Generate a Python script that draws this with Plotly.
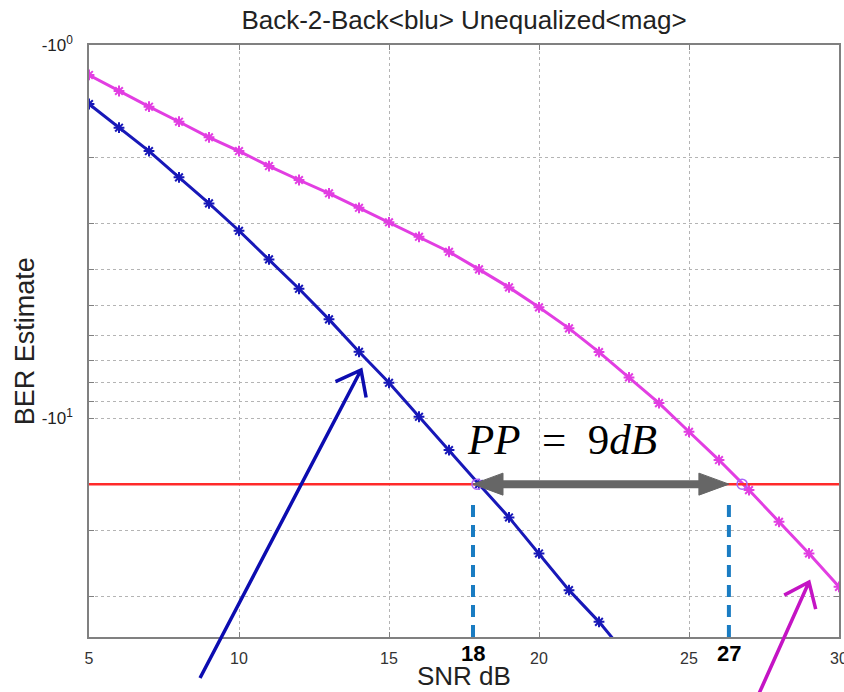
import math
import plotly.graph_objects as go

# ---------------- data ----------------
snr_b2b = [5, 6, 7, 8, 9, 10, 11, 12, 13, 14, 15, 16, 17, 18, 19, 20, 21, 22, 23]
ber_b2b = [1.439, 1.665, 1.923, 2.262, 2.656, 3.144, 3.751, 4.496, 5.430, 6.631,
           8.029, 9.90, 12.16, 15.0, 18.42, 23.0, 28.84, 35.07, 43.8]

snr_uneq = [5, 6, 7, 8, 9, 10, 11, 12, 13, 14, 15, 16, 17, 18, 19, 20, 21, 22,
            23, 24, 25, 26, 27, 28, 29, 30]
ber_uneq = [1.203, 1.328, 1.463, 1.605, 1.767, 1.923, 2.110, 2.299, 2.496, 2.729,
            2.984, 3.263, 3.579, 3.990, 4.458, 5.042, 5.740, 6.644, 7.767, 9.10,
            10.86, 12.93, 15.56, 18.92, 23.0, 28.26]

threshold = 15.0
threshold_snr = [5, 30]
cross_snr = [17.93, 26.77]
pp_snr = [17.8, 26.33]
pp_labels = ["18", "27"]

x_ticks = [5, 10, 15, 20, 25, 30]
y_grid = [1, 2, 3, 4, 5, 6, 7, 8, 9, 10, 20, 30]
y_ticktext = ["-10<sup>0</sup>", "", "", "", "", "", "", "", "", "-10<sup>1</sup>", "", ""]
y_max = 38.5

BLUE = "#1818b8"
MAG = "#e23ee2"

# ---------------- figure ----------------
fig = go.Figure()

fig.add_trace(go.Scatter(
    x=snr_b2b, y=ber_b2b, mode="lines+markers",
    line=dict(color=BLUE, width=3),
    marker=dict(symbol="asterisk-open", size=9, line=dict(color=BLUE, width=2)),
    showlegend=False))
fig.add_trace(go.Scatter(
    x=snr_uneq, y=ber_uneq, mode="lines+markers",
    line=dict(color=MAG, width=3),
    marker=dict(symbol="asterisk-open", size=9, line=dict(color=MAG, width=2)),
    showlegend=False))
fig.add_trace(go.Scatter(
    x=threshold_snr, y=[threshold, threshold], mode="lines",
    line=dict(color="#ff2a2a", width=2.5), showlegend=False))
fig.add_trace(go.Scatter(
    x=cross_snr, y=[threshold, threshold], mode="markers",
    marker=dict(symbol="circle-open", size=10,
                line=dict(color=[BLUE, MAG], width=1.5)),
    showlegend=False))

shapes = []
# dashed markers down to the axis
for xs in pp_snr:
    shapes.append(dict(type="line", xref="x", yref="paper", x0=xs, x1=xs,
                       y0=0, y1=0.232, layer="above",
                       line=dict(color="#1a7cc2", width=4, dash="12px,8px")))
# gray double arrow
shapes.append(dict(type="line", xref="x", yref="y", x0=pp_snr[0] + 0.9, x1=pp_snr[1] - 0.9,
                   y0=threshold, y1=threshold, layer="above",
                   line=dict(color="#666666", width=8)))
shapes.append(dict(type="path", xref="x", yref="y", xsizemode="pixel", ysizemode="pixel",
                   xanchor=pp_snr[0], yanchor=threshold, layer="above",
                   path="M0,0 L30,11 L30,-11 Z", fillcolor="#666666",
                   line=dict(color="#666666", width=1)))
shapes.append(dict(type="path", xref="x", yref="y", xsizemode="pixel", ysizemode="pixel",
                   xanchor=pp_snr[1], yanchor=threshold, layer="above",
                   path="M0,0 L-30,11 L-30,-11 Z", fillcolor="#666666",
                   line=dict(color="#666666", width=1)))


# hand drawn pointer arrows (pixel offsets relative to the tip)
def pointer(tipx, tipy, dx, dy, color):
    L = math.hypot(dx, dy)
    ux, uy = dx / L, dy / L
    arms = []
    for a in (math.radians(38), math.radians(-38)):
        rx = ux * math.cos(a) - uy * math.sin(a)
        ry = ux * math.sin(a) + uy * math.cos(a)
        arms.append((28 * rx, 28 * ry))
    path = (f"M{dx:.1f},{dy:.1f} L0,0 "
            f"M{arms[0][0]:.1f},{arms[0][1]:.1f} L0,0 L{arms[1][0]:.1f},{arms[1][1]:.1f}")
    return dict(type="path", xref="paper", yref="paper", xsizemode="pixel",
                ysizemode="pixel", xanchor=tipx, yanchor=tipy, layer="above",
                path=path, line=dict(color=color, width=3.5))


shapes.append(pointer(0.3627, 0.451, -161, -308, "#0c0cb0"))
shapes.append(pointer(0.96, 0.0929, -52, -116, "#c414c4"))

annotations = [
    dict(text="<i>PP</i>&nbsp;&nbsp;=&nbsp;&nbsp;9<i>dB</i>", xref="x", yref="paper",
         x=20.77, y=0.333, showarrow=False, xanchor="center", yanchor="middle",
         font=dict(family="Liberation Serif, Times New Roman, serif", size=43, color="black")),
    dict(text="SNR dB", xref="paper", yref="paper", x=0.5, y=-0.066, showarrow=False,
         yanchor="middle", font=dict(family="Liberation Sans, Arial, sans-serif", size=26, color="#222")),
    dict(text="BER Estimate", xref="paper", yref="paper", x=-0.085, y=0.5, showarrow=False,
         textangle=-90, xanchor="center", yanchor="middle",
         font=dict(family="Liberation Sans, Arial, sans-serif", size=27, color="#222")),
]
for xs, lab in zip(pp_snr, pp_labels):
    annotations.append(dict(text=f"<b>{lab}</b>", xref="x", yref="paper", x=xs, y=-0.028,
                            showarrow=False, yanchor="middle", xanchor="center",
                            font=dict(family="Liberation Sans Narrow, Arial Narrow, sans-serif",
                                      size=22, color="black")))

axis_common = dict(showline=True, linecolor="#808080", linewidth=1.5, mirror="ticks",
                   ticks="inside", ticklen=5, tickcolor="#808080",
                   showgrid=True, gridcolor="#b4b4b4", griddash="dot", gridwidth=1,
                   zeroline=False, ticklabeloverflow="allow", automargin=False)

fig.update_layout(
    width=844, height=692,
    margin=dict(l=89, r=5, t=45, b=55, autoexpand=False),
    paper_bgcolor="white", plot_bgcolor="white",
    title=dict(text="Back-2-Back&lt;blu&gt; Unequalized&lt;mag&gt;",
               xref="paper", x=0.5, xanchor="center",
               yref="container", y=1 - 20 / 692, yanchor="middle",
               font=dict(family="Liberation Sans, Arial, sans-serif", size=26, color="#222")),
    xaxis=dict(range=[5, 30], tickvals=x_ticks, ticktext=[str(v) for v in x_ticks],
               ticklabelstandoff=6,
               tickfont=dict(family="Liberation Sans, Arial, sans-serif", size=16, color="#333"),
               **axis_common),
    yaxis=dict(type="log", range=[math.log10(y_max), 0], tickvals=y_grid, ticktext=y_ticktext,
               ticklabelstandoff=11,
               tickfont=dict(family="Liberation Sans, Arial, sans-serif", size=17, color="#222"),
               **axis_common),
    shapes=shapes,
    annotations=annotations,
)

fig.write_html("out.html",
               config={"displayModeBar": False},
               post_script="document.body.style.margin='0';document.body.style.overflow='hidden';")
